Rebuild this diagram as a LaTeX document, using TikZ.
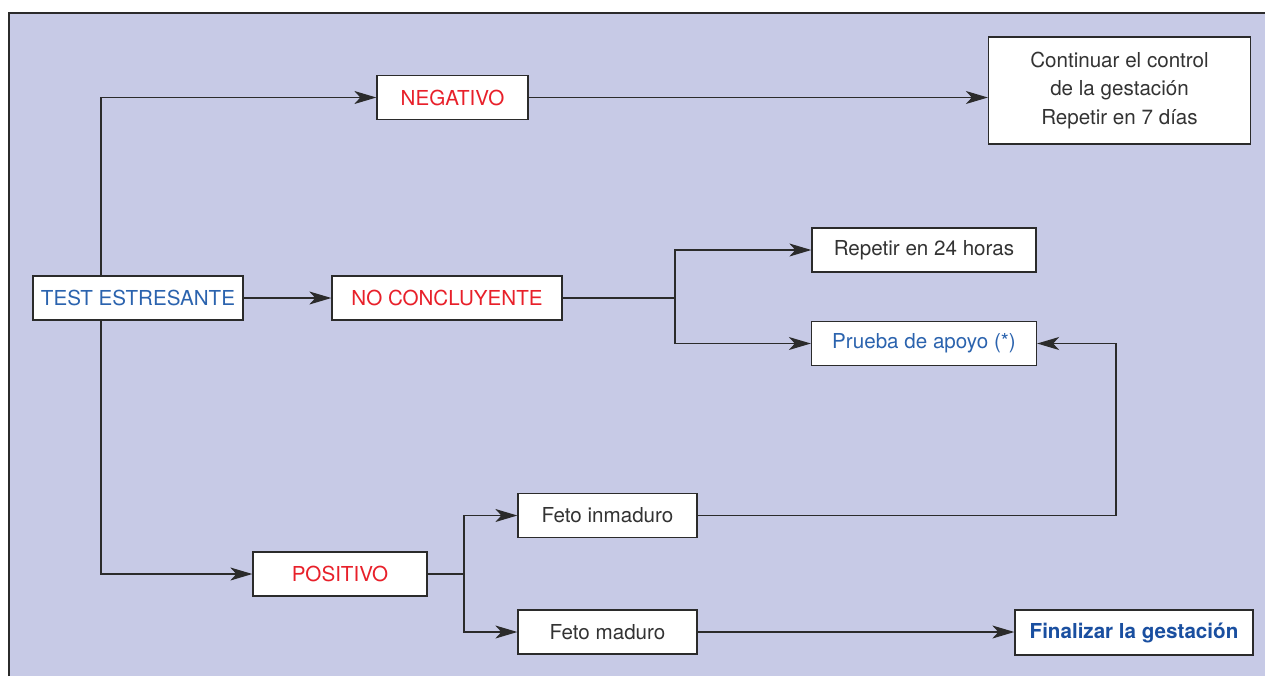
\documentclass[tikz,border=0pt]{standalone}
\usepackage{fontspec}
\setmainfont{TeX Gyre Heros}
\usepackage{xcolor}
\usetikzlibrary{arrows.meta,positioning,calc}
\definecolor{PanelBg}{HTML}{C7CAE6}
\definecolor{LineCol}{HTML}{2B2B2B}
\definecolor{TxtRed}{HTML}{E8202A}
\definecolor{TxtBlue}{HTML}{2B63AE}
\definecolor{TxtNavy}{HTML}{1A4FA0}
\definecolor{TxtGray}{HTML}{333333}

\begin{document}
\begin{tikzpicture}[
  x=0.5pt, y=-0.5pt,
  every node/.style={font=\fontsize{10.3}{14.3}\selectfont},
  box/.style={rectangle, draw=LineCol, fill=white, line width=0.65pt,
              minimum height=22pt, inner sep=0pt, align=center, text=TxtGray},
  arr/.style={-{Stealth[length=11pt,width=6.5pt,inset=3pt]}, line width=0.65pt, draw=LineCol},
  ln/.style={line width=0.65pt, draw=LineCol},
]
\useasboundingbox (0,0) rectangle (1265,676);
\fill[PanelBg] (9,13) rectangle (1265,676);
\draw[line width=0.8pt, LineCol] (9,676) -- (9,13) -- (1265,13);
% boxes
\node[box, minimum width=105pt, text=TxtBlue] (test) at (138, 298) {TEST ESTRESANTE};
\node[box, minimum width=75.5pt, text=TxtRed] (neg) at (452.5, 97.5) {NEGATIVO};
\node[box, minimum width=115pt, text=TxtRed] (nc) at (447, 298) {NO CONCLUYENTE};
\node[box, minimum width=87pt, text=TxtRed] (pos) at (340, 574) {POSITIVO};
\node[box, minimum width=131pt, minimum height=53.5pt] (cont) at (1119.5, 90.5)
     {Continuar el control\\de la gestación\\Repetir en 7 días};
\node[box, minimum width=112pt] (rep) at (924, 250) {Repetir en 24 horas};
\node[box, minimum width=112.5pt, text=TxtBlue] (apoyo) at (924, 343.5) {Prueba de apoyo (*)};
\node[box, minimum width=89.5pt] (inm) at (607.5, 515.5) {Feto inmaduro};
\node[box, minimum width=89.5pt] (mad) at (607.5, 632) {Feto maduro};
\node[box, minimum width=119pt, minimum height=22.5pt, text=TxtNavy,
      font=\fontsize{10.3}{14.3}\selectfont\bfseries] (fin) at (1134, 632.5) {Finalizar la gestación};
% junctions
\coordinate (tj) at (101, 298);
\coordinate (nj) at (675, 298);
\coordinate (pj) at (464, 574);
\coordinate (ij) at (1116, 515.5);
% connectors
\draw[arr] (test.north -| tj) |- (neg.west);
\draw[arr] (test.south -| tj) |- (pos.west);
\draw[arr] (test.east) -- (nc.west);
\draw[arr] (neg.east) -- (neg.east -| cont.west);
\draw[ln]  (nc.east) -- (nj);
\draw[arr] (nj) |- (rep.west);
\draw[arr] (nj) |- (apoyo.west);
\draw[ln]  (pos.east) -- (pj);
\draw[arr] (pj) |- (inm.west);
\draw[arr] (pj) |- (mad.west);
\draw[arr] (inm.east) -- (ij) |- (apoyo.east);
\draw[arr] (mad.east) -- (mad.east -| fin.west);
\end{tikzpicture}
\end{document}
